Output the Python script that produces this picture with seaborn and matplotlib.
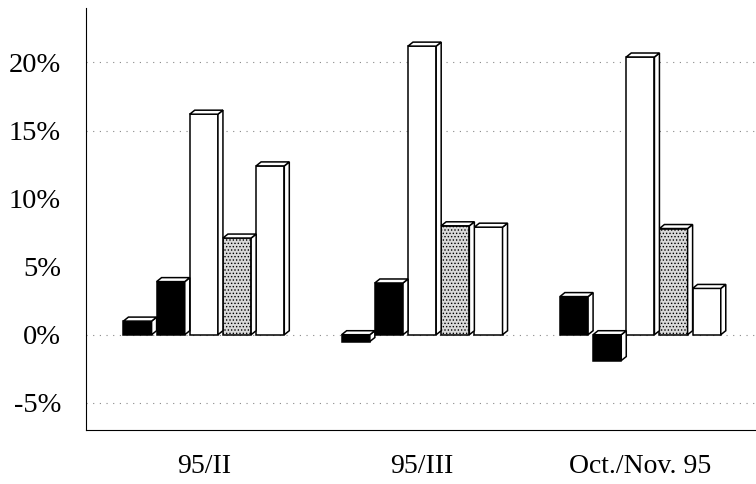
import numpy as np
import pandas as pd
import matplotlib
matplotlib.use('Agg')
import matplotlib.pyplot as plt
from matplotlib.patches import Polygon
import seaborn as sns

# Data (percent)
periods = ['95/II', '95/III', 'Oct./Nov. 95']
series = ['s1', 's2', 's3', 's4', 's5']
s1 = [1.0, -0.5, 2.8]
s2 = [3.9, 3.8, -1.9]
s3 = [16.2, 21.2, 20.4]
s4 = [7.1, 8.0, 7.8]
s5 = [12.4, 7.9, 3.4]
yticks = [-5, 0, 5, 10, 15, 20]
ytick_labels = ['-5%', '0%', '5%', '10%', '15%', '20%']
grid_levels = [-5, 0, 15, 20]

face_colors = ['black', 'black', 'white', '#d9d9d9', 'white']

df = pd.DataFrame({
    'period': np.repeat(periods, len(series)),
    'series': series * len(periods),
    'value': np.array([s1, s2, s3, s4, s5]).T.ravel(),
})

sns.set_style('white')
plt.rcParams['font.family'] = ['Liberation Serif', 'DejaVu Serif']
plt.rcParams['hatch.linewidth'] = 0.6
plt.rcParams['xtick.color'] = 'black'
plt.rcParams['ytick.color'] = 'black'

fig = plt.figure(figsize=(7.56, 4.84), dpi=100)
ax = fig.add_axes([86 / 756, 54 / 484, 670 / 756, 422 / 484])

for lv in grid_levels:
    ax.axhline(lv, color='#888888', lw=0.8, ls=(0, (1, 5)), zorder=0)

sns.barplot(data=df, x='period', y='value', hue='series', hue_order=series,
            palette=face_colors, width=0.76, gap=0.15, edgecolor='black',
            linewidth=1.1, legend=False, ax=ax, zorder=3)

ax.set_xlim(-0.54, 2.53)
ax.set_ylim(-7, 24)

# 3D depth in pixels converted to data units
bbox = ax.get_window_extent()
dx = 5 * (ax.get_xlim()[1] - ax.get_xlim()[0]) / bbox.width
dy = 4 * (ax.get_ylim()[1] - ax.get_ylim()[0]) / bbox.height

for i, cont in enumerate(ax.containers):
    for bar in cont:
        if i == 3:
            bar.set_hatch('.....')
        x0 = bar.get_x()
        x1 = x0 + bar.get_width()
        ya, yb = sorted([bar.get_y(), bar.get_y() + bar.get_height()])
        side = Polygon([(x1, ya), (x1 + dx, ya + dy), (x1 + dx, yb + dy), (x1, yb)],
                       closed=True, facecolor='white', edgecolor='black',
                       lw=1.1, zorder=3)
        top = Polygon([(x0, yb), (x0 + dx, yb + dy), (x1 + dx, yb + dy), (x1, yb)],
                      closed=True, facecolor='white', edgecolor='black',
                      lw=1.1, zorder=3)
        ax.add_patch(side)
        ax.add_patch(top)

ax.set_yticks(yticks)
ax.set_yticklabels(ytick_labels)
ax.set_xlabel('')
ax.set_ylabel('')
ax.tick_params(axis='y', labelsize=20.5, length=7, width=0.6, color='#888888',
               labelcolor='black', pad=11)
ax.tick_params(axis='x', labelsize=20, length=5, width=0.6, color='#888888',
               labelcolor='black', pad=12)

for s in ['top', 'right']:
    ax.spines[s].set_visible(False)
for s in ['left', 'bottom']:
    ax.spines[s].set_color('black')
    ax.spines[s].set_linewidth(0.8)

fig.savefig('out.png', dpi=100)
